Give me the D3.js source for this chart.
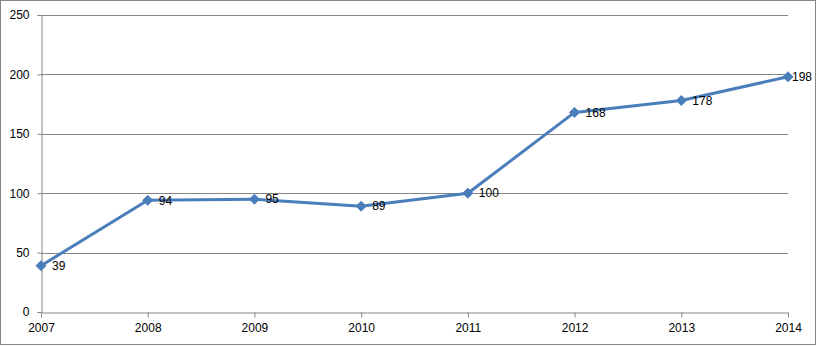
<!DOCTYPE html>
<html>
<head>
<meta charset="utf-8">
<script src="https://cdn.jsdelivr.net/npm/d3@7"></script>
<style>
  body { margin: 0; background: #fff; }
  text { font-family: "Liberation Sans", "DejaVu Sans", sans-serif; font-size: 12px; fill: #000; }
</style>
</head>
<body>
<svg width="817" height="346"></svg>
<script>
const years = ["2007", "2008", "2009", "2010", "2011", "2012", "2013", "2014"];
const values = [39, 94, 95, 89, 100, 168, 178, 198];
const yTicks = [0, 50, 100, 150, 200, 250];

const svg = d3.select("svg");
const margin = { left: 41, right: 29, top: 15, bottom: 34 };
const width = +svg.attr("width");
const height = +svg.attr("height");

// outer chart border
svg.append("rect")
  .attr("x", 0.5).attr("y", 0.5)
  .attr("width", width - 2).attr("height", height - 2)
  .attr("fill", "#fff")
  .attr("stroke", "#868686");

const x = d3.scalePoint()
  .domain(years)
  .range([margin.left, width - margin.right]);

const y = d3.scaleLinear()
  .domain([0, 250])
  .range([height - margin.bottom, margin.top]);

// gridlines
svg.append("g")
  .selectAll("line")
  .data(yTicks.filter(d => d > 0))
  .enter().append("line")
  .attr("x1", margin.left).attr("x2", width - margin.right)
  .attr("y1", d => Math.round(y(d)) + 0.5)
  .attr("y2", d => Math.round(y(d)) + 0.5)
  .attr("stroke", "#868686");

// y axis
const yAxis = svg.append("g")
  .attr("transform", `translate(${margin.left + 0.5},0)`)
  .call(d3.axisLeft(y).tickValues(yTicks).tickSize(4).tickPadding(8));
yAxis.select(".domain").attr("stroke", "#868686");
yAxis.selectAll(".tick line").attr("stroke", "#868686");
yAxis.selectAll("text").style("font-size", "12px");

// x axis
const xAxis = svg.append("g")
  .attr("transform", `translate(0,${Math.round(y(0)) + 0.5})`)
  .call(d3.axisBottom(x).tickSize(5).tickPadding(6).tickSizeOuter(0));
xAxis.select(".domain").attr("stroke", "#868686");
xAxis.selectAll(".tick line").attr("stroke", "#868686");

const pts = years.map((yr, i) => ({ year: yr, value: values[i] }));

// series line
svg.append("path")
  .datum(pts)
  .attr("fill", "none")
  .attr("stroke", "#4a7ebb")
  .attr("stroke-width", 3)
  .attr("stroke-linejoin", "round")
  .attr("d", d3.line().x(d => x(d.year)).y(d => y(d.value)));

// diamond markers
svg.append("g")
  .selectAll("path")
  .data(pts)
  .enter().append("path")
  .attr("transform", d => `translate(${x(d.year)},${y(d.value)})`)
  .attr("d", "M0,-5L5,0L0,5L-5,0Z")
  .attr("fill", "#4a7ebb")
  .attr("stroke", "#4a7ebb");

// data labels, pulled back inside the border when they would overflow
svg.append("g")
  .selectAll("text")
  .data(pts)
  .enter().append("text")
  .attr("y", d => y(d.value))
  .attr("dy", "0.35em")
  .text(d => d.value)
  .attr("x", function(d) {
    const w = this.getComputedTextLength();
    return Math.min(x(d.year) + 11, width - 5 - w);
  });
</script>
</body>
</html>
